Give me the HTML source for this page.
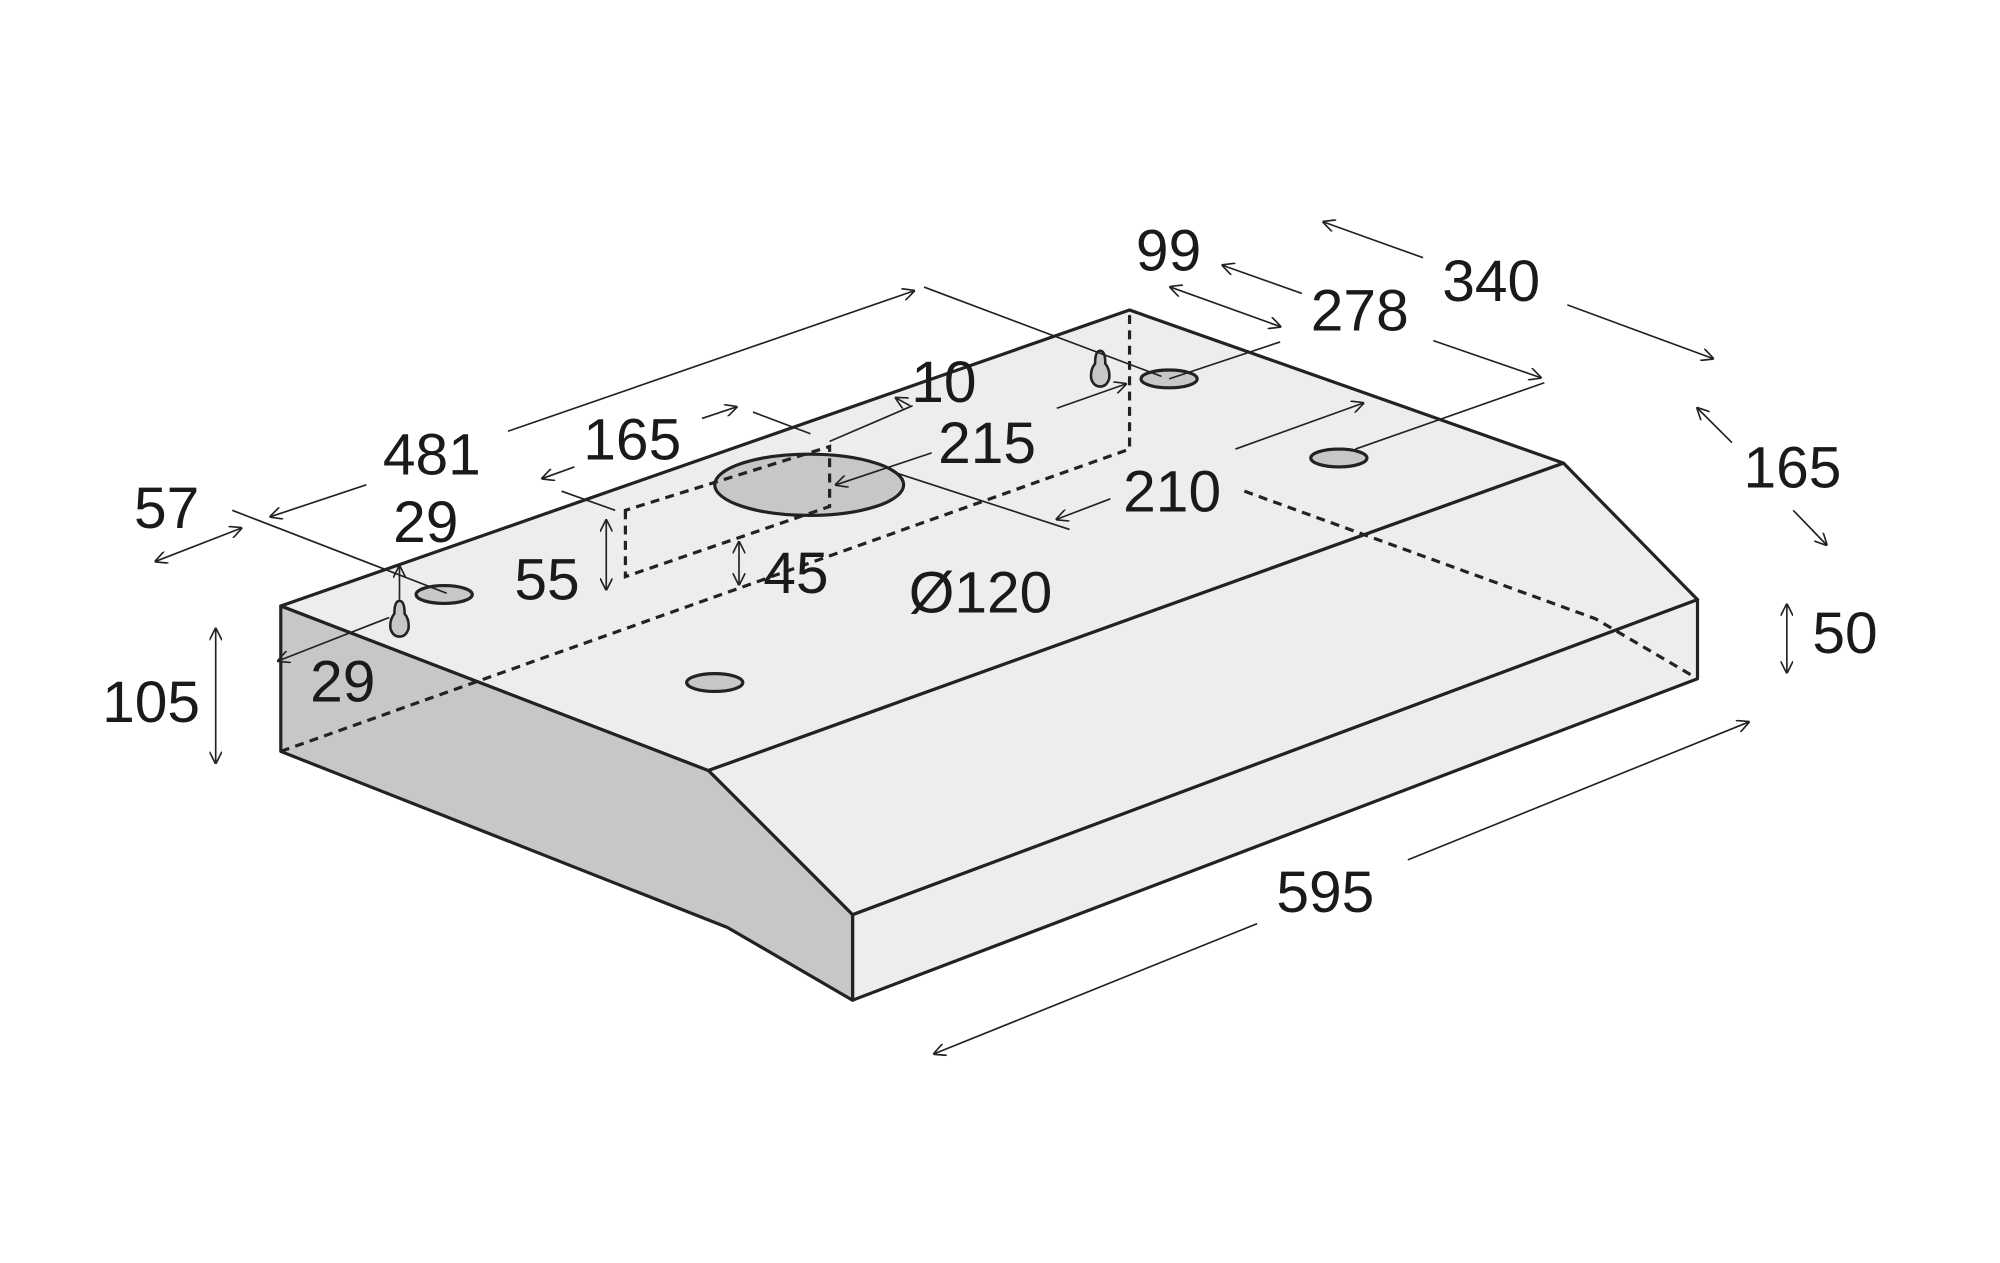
<!DOCTYPE html>
<html><head><meta charset="utf-8"><style>html,body{margin:0;padding:0;background:#fff}svg{display:block}</style></head>
<body>
<svg width="2000" height="1263" viewBox="0 0 1567 990" preserveAspectRatio="none" xmlns="http://www.w3.org/2000/svg">
<defs>
<marker id="a" viewBox="0 0 10 10" refX="9" refY="5" markerWidth="10" markerHeight="10" orient="auto-start-reverse" markerUnits="userSpaceOnUse"><path d="M0,0 L10,5 L0,10" fill="none" stroke="#222" stroke-width="1.3"/></marker>
</defs>
<g stroke="#222" stroke-width="2.5" stroke-linejoin="round">
<polygon points="220,475 885,243 1225,363 555,604" fill="#ededed"/>
<polygon points="555,604 1225,363 1330,470 668,717" fill="#ededed"/>
<polygon points="668,717 1330,470 1330,532 668,784" fill="#ededed"/>
<polygon points="220,475 555,604 668,717 668,784 570,727 220,589" fill="#c8c6c6"/>
</g>
<g stroke="#222" stroke-width="2.5" fill="#c8c6c6">
<ellipse cx="634" cy="380" rx="74" ry="24"/>
<ellipse cx="348" cy="466" rx="22" ry="7"/>
<ellipse cx="560" cy="535" rx="22" ry="7"/>
<ellipse cx="916" cy="297" rx="22" ry="7"/>
<ellipse cx="1049" cy="359" rx="22" ry="7"/>
<path d="M313,471 q4,0 4,10 q4,5 3,12 q-2,6 -7,6 q-5,0 -7,-6 q-1,-7 3,-12 q0,-10 4,-10z" stroke-width="2"/>
<path d="M862,275 q4,0 4,10 q4,5 3,12 q-2,6 -7,6 q-5,0 -7,-6 q-1,-7 3,-12 q0,-10 4,-10z" stroke-width="2"/>
</g>
<g stroke="#222" stroke-width="2.5" fill="none" stroke-dasharray="7,5">
<path d="M220,589 L885,352 L885,243"/>
<path d="M975,385 L1250,485 L1330,532"/>
<path d="M490,400 L490,452 L650,397 L650,350 Z"/>
</g>
<g stroke="#222" stroke-width="1.3" fill="none">
<line x1="212" y1="405" x2="287" y2="380" marker-start="url(#a)"/>
<line x1="398" y1="338" x2="716" y2="228" marker-end="url(#a)"/>
<line x1="724" y1="225" x2="910" y2="295"/>
<line x1="182" y1="400" x2="350" y2="465"/>
<line x1="122" y1="440" x2="189" y2="414" marker-start="url(#a)" marker-end="url(#a)"/>
<line x1="313" y1="470" x2="313" y2="444" marker-end="url(#a)"/>
<line x1="218" y1="518" x2="305" y2="484" marker-start="url(#a)"/>
<line x1="169" y1="493" x2="169" y2="598" marker-start="url(#a)" marker-end="url(#a)"/>
<line x1="425" y1="375" x2="450" y2="366" marker-start="url(#a)"/>
<line x1="550" y1="328" x2="577" y2="319" marker-end="url(#a)"/>
<line x1="440" y1="385" x2="482" y2="400"/>
<line x1="590" y1="323" x2="635" y2="340"/>
<line x1="475" y1="408" x2="475" y2="462" marker-start="url(#a)" marker-end="url(#a)"/>
<line x1="579" y1="425" x2="579" y2="458" marker-start="url(#a)" marker-end="url(#a)"/>
<line x1="655" y1="380" x2="730" y2="355" marker-start="url(#a)"/>
<line x1="700" y1="370" x2="838" y2="415"/>
<line x1="650" y1="346" x2="715" y2="318"/>
<line x1="702" y1="312" x2="713" y2="318" marker-start="url(#a)"/>
<line x1="828" y1="320" x2="882" y2="301" marker-end="url(#a)"/>
<line x1="828" y1="407" x2="870" y2="391" marker-start="url(#a)"/>
<line x1="968" y1="352" x2="1068" y2="316" marker-end="url(#a)"/>
<line x1="916" y1="297" x2="1003" y2="268"/>
<line x1="1062" y1="352" x2="1210" y2="300"/>
<line x1="917" y1="225" x2="1003" y2="256" marker-start="url(#a)" marker-end="url(#a)"/>
<line x1="958" y1="208" x2="1020" y2="230" marker-start="url(#a)"/>
<line x1="1123" y1="267" x2="1207" y2="296" marker-end="url(#a)"/>
<line x1="1037" y1="174" x2="1115" y2="202" marker-start="url(#a)"/>
<line x1="1228" y1="239" x2="1342" y2="281" marker-end="url(#a)"/>
<line x1="1330" y1="320" x2="1357" y2="347" marker-start="url(#a)"/>
<line x1="1405" y1="400" x2="1431" y2="427" marker-end="url(#a)"/>
<line x1="1400" y1="474" x2="1400" y2="527" marker-start="url(#a)" marker-end="url(#a)"/>
<line x1="1103" y1="674" x2="1370" y2="566" marker-end="url(#a)"/>
<line x1="732" y1="826" x2="985" y2="724" marker-start="url(#a)"/>
</g>
<g font-family="'Liberation Sans',sans-serif" font-size="46" fill="#1a1a1a">
<text x="300" y="372">481</text>
<text x="105" y="414">57</text>
<text x="308" y="425">29</text>
<text x="80" y="566">105</text>
<text x="243" y="550">29</text>
<text x="457" y="360">165</text>
<text x="403" y="470">55</text>
<text x="598" y="465">45</text>
<text x="714" y="315">10</text>
<text x="735" y="363">215</text>
<text x="712" y="480">Ø120</text>
<text x="880" y="401">210</text>
<text x="890" y="212">99</text>
<text x="1027" y="259">278</text>
<text x="1130" y="236">340</text>
<text x="1366" y="382">165</text>
<text x="1420" y="512">50</text>
<text x="1000" y="715">595</text>
</g>
</svg>
</body></html>
